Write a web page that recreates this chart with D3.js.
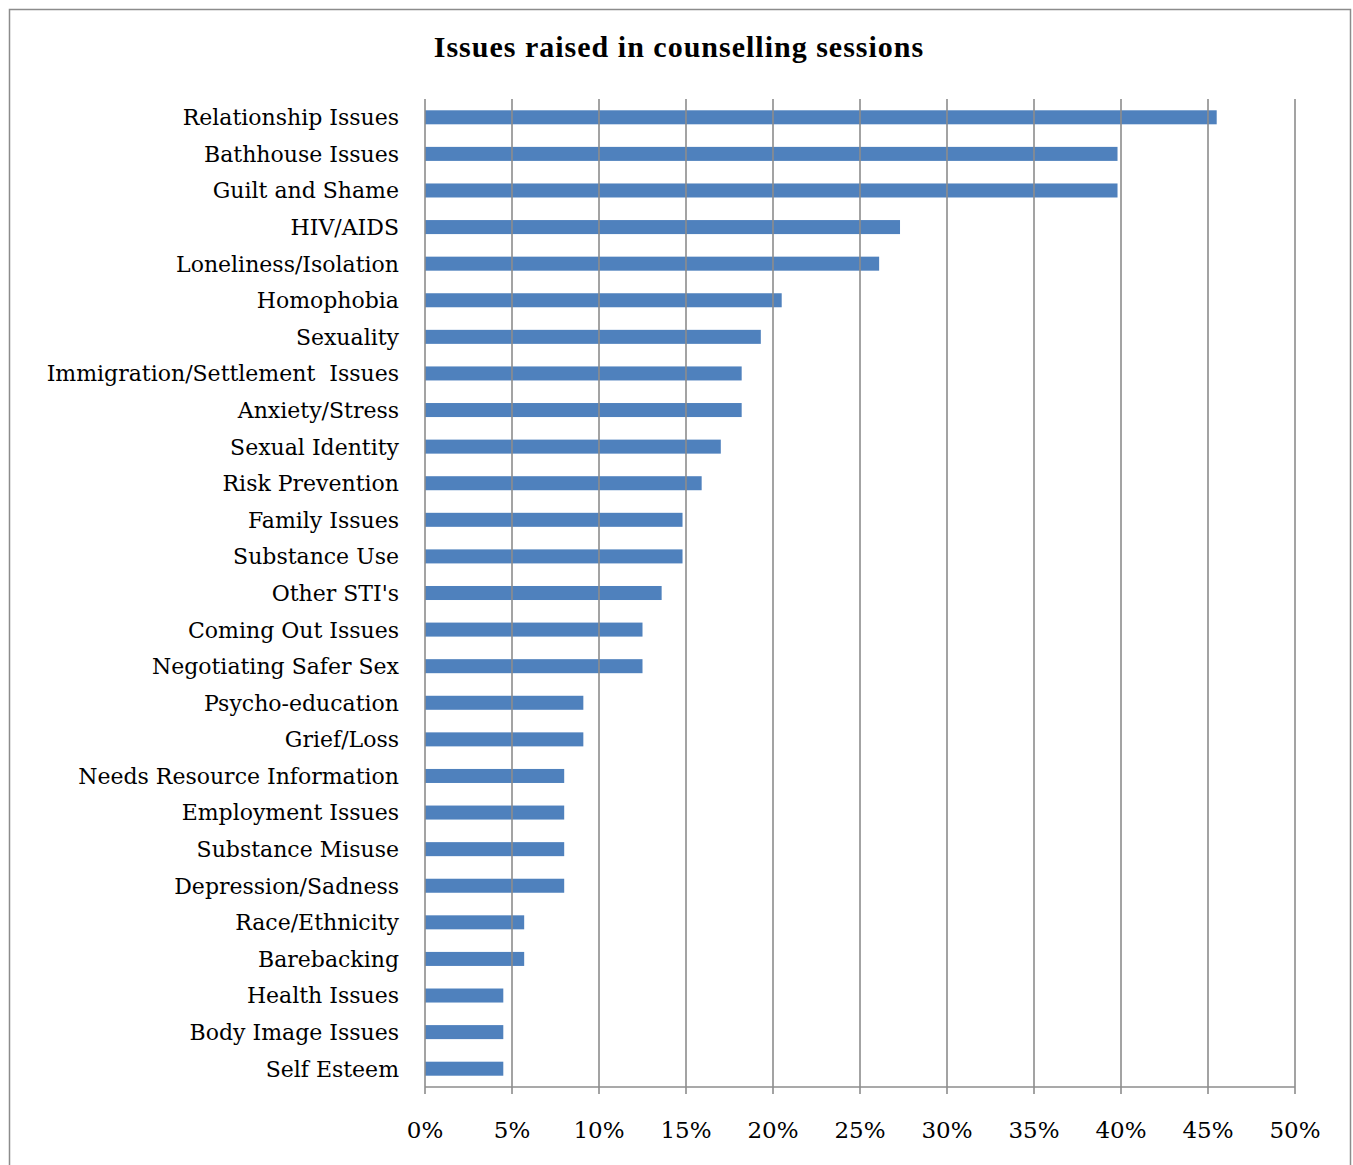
<!DOCTYPE html>
<html>
<head>
<meta charset="utf-8">
<script src="https://cdn.jsdelivr.net/npm/d3@7"></script>
<style>
  html, body { margin: 0; padding: 0; background: #fff; }
  svg { display: block; }
  text { white-space: pre; }
</style>
</head>
<body>
<svg id="chart" width="1353" height="1165"></svg>
<script>
// Share of counselling sessions in which each issue was raised (%)
const categories = [
  "Relationship Issues", "Bathhouse Issues", "Guilt and Shame", "HIV/AIDS",
  "Loneliness/Isolation", "Homophobia", "Sexuality", "Immigration/Settlement  Issues",
  "Anxiety/Stress", "Sexual Identity", "Risk Prevention", "Family Issues",
  "Substance Use", "Other STI's", "Coming Out Issues", "Negotiating Safer Sex",
  "Psycho-education", "Grief/Loss", "Needs Resource Information", "Employment Issues",
  "Substance Misuse", "Depression/Sadness", "Race/Ethnicity", "Barebacking",
  "Health Issues", "Body Image Issues", "Self Esteem"
];
const values = [
  45.5, 39.8, 39.8, 27.3,
  26.1, 20.5, 19.3, 18.2,
  18.2, 17.0, 15.9, 14.8,
  14.8, 13.6, 12.5, 12.5,
  9.1, 9.1, 8.0, 8.0,
  8.0, 8.0, 5.7, 5.7,
  4.5, 4.5, 4.5
];
const tickValues = [0, 5, 10, 15, 20, 25, 30, 35, 40, 45, 50];
const title = "Issues raised in counselling sessions";

const svg = d3.select("#chart");
const labelFont = "'DejaVu Serif', 'Liberation Serif', serif";

// outer frame
svg.append("rect")
  .attr("x", 9.5).attr("y", 9.5)
  .attr("width", 1341).attr("height", 1200)
  .attr("fill", "none").attr("stroke", "#8c8c8c").attr("stroke-width", 1.5);

const plot = { left: 425, right: 1295, top: 99, bottom: 1087 };

const x = d3.scaleLinear().domain([0, 50]).range([plot.left, plot.right]);
const y = d3.scaleBand().domain(categories)
  .range([plot.top, plot.bottom])
  .paddingInner(0.617).paddingOuter(0.3085);

// bars
svg.append("g").selectAll("rect")
  .data(categories)
  .join("rect")
  .attr("x", x(0))
  .attr("y", d => y(d))
  .attr("width", (d, i) => x(values[i]) - x(0))
  .attr("height", y.bandwidth())
  .attr("fill", "#4f81bd");

// vertical gridlines with tick marks below the axis
const grid = svg.append("g");
grid.selectAll("line")
  .data(tickValues)
  .join("line")
  .attr("x1", d => x(d)).attr("x2", d => x(d))
  .attr("y1", plot.top).attr("y2", plot.bottom + 7)
  .attr("stroke", "#8c8c8c").attr("stroke-width", 1.6);

// horizontal axis line
svg.append("line")
  .attr("x1", x(0)).attr("x2", x(50))
  .attr("y1", plot.bottom).attr("y2", plot.bottom)
  .attr("stroke", "#8c8c8c").attr("stroke-width", 1.6);

// x tick labels
svg.append("g").selectAll("text")
  .data(tickValues)
  .join("text")
  .attr("x", d => x(d))
  .attr("y", 1138)
  .attr("text-anchor", "middle")
  .attr("font-family", labelFont)
  .attr("font-size", 23)
  .attr("fill", "#000")
  .text(d => d + "%");

// category labels
svg.append("g").selectAll("text")
  .data(categories)
  .join("text")
  .attr("x", 399)
  .attr("y", d => y(d) + y.bandwidth() / 2)
  .attr("dy", "0.36em")
  .attr("text-anchor", "end")
  .attr("font-family", labelFont)
  .attr("font-size", 22)
  .attr("fill", "#000")
  .text(d => d);

// title
svg.append("text")
  .attr("x", 679)
  .attr("y", 57)
  .attr("text-anchor", "middle")
  .attr("font-family", "'Liberation Serif', 'DejaVu Serif', serif")
  .attr("font-weight", "bold")
  .attr("font-size", 30)
  .attr("letter-spacing", 1)
  .attr("fill", "#000")
  .text(title);
</script>
</body>
</html>
